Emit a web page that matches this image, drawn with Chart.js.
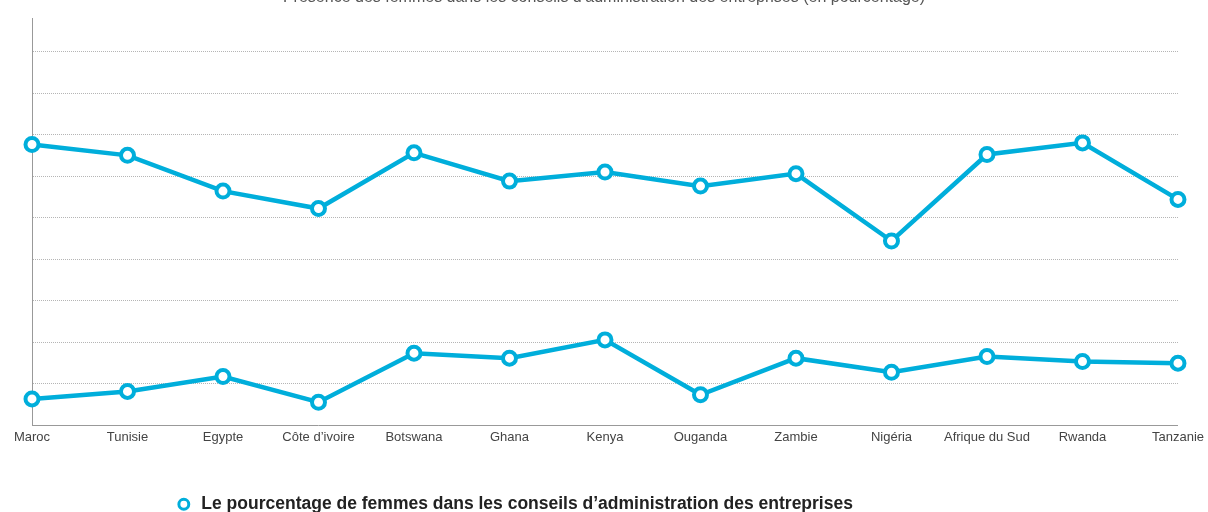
<!DOCTYPE html>
<html lang="fr">
<head>
  <meta charset="UTF-8" />
  <title>Femmes dans les conseils d'administration</title>
  <style>
    * {
      margin: 0;
      padding: 0;
      box-sizing: border-box;
    }

    html, body {
      width: 1208px;
      height: 512px;
      overflow: hidden;
      background: #fff;
    }

    .chart-wrap {
      position: absolute;
      left: 0;
      top: -12px;
      width: 1208px;
      height: 535px;
    }
  </style>
</head>
<body>
  <div class="chart-wrap">
    <canvas id="boardChart"></canvas>
  </div>

  <script src="https://cdn.jsdelivr.net/npm/chart.js"></script>
  <script>
    const countries = ["Maroc", "Tunisie", "Egypte", "Côte d’ivoire", "Botswana", "Ghana", "Kenya",
      "Ouganda", "Zambie", "Nigéria", "Afrique du Sud", "Rwanda", "Tanzanie"];
    const upperSeries = [33.8, 32.5, 28.2, 26.1, 32.8, 29.4, 30.5, 28.8, 30.3, 22.2, 32.6, 34.0, 27.2];
    const lowerSeries = [3.2, 4.1, 5.9, 2.8, 8.7, 8.1, 10.3, 3.7, 8.1, 6.4, 8.3, 7.7, 7.5];
    const legendLabel = "Le pourcentage de femmes dans les conseils d’administration des entreprises";
    const chartTitle = "Présence des femmes dans les conseils d’administration des entreprises (en pourcentage)";

    const cyan = '#00aedb';
    const fontFamily = "'Liberation Sans', Arial, sans-serif";

    function lineDataset(label, values, inLegend) {
      return {
        label: label,
        data: values,
        inLegend: inLegend,
        borderColor: cyan,
        borderWidth: 4.5,
        tension: 0,
        pointRadius: 6.5,
        pointHoverRadius: 6.5,
        pointBorderWidth: 4,
        pointBackgroundColor: '#fff',
        pointBorderColor: cyan,
        fill: false
      };
    }

    // move the legend a bit to the left, like in the original layout
    const legendShift = {
      id: 'legendShift',
      afterLayout(chart) {
        chart.legend.right -= 180;
      }
    };

    const ctx = document.getElementById('boardChart').getContext('2d');
    new Chart(ctx, {
      type: 'line',
      data: {
        labels: countries,
        datasets: [
          lineDataset(legendLabel, upperSeries, true),
          lineDataset(legendLabel, lowerSeries, false)
        ]
      },
      options: {
        responsive: true,
        maintainAspectRatio: false,
        animation: false,
        layout: { padding: 0 },
        plugins: {
          tooltip: { enabled: false },
          title: {
            display: true,
            text: chartTitle,
            color: '#555',
            font: { family: fontFamily, size: 16, weight: 'normal' },
            padding: { top: 0, bottom: 11 }
          },
          legend: {
            position: 'bottom',
            labels: {
              usePointStyle: true,
              pointStyle: 'circle',
              boxHeight: 7,
              padding: 10,
              color: '#222',
              font: { family: fontFamily, size: 17.5, weight: 'bold' },
              filter: (item, data) => data.datasets[item.datasetIndex].inLegend,
              generateLabels(chart) {
                const items = Chart.defaults.plugins.legend.labels.generateLabels(chart);
                items.forEach(it => {
                  it.fillStyle = '#fff';
                  it.strokeStyle = cyan;
                  it.lineWidth = 3;
                });
                return items;
              }
            }
          }
        },
        scales: {
          x: {
            offset: false,
            grid: { display: false, drawTicks: false },
            border: { display: true, color: '#999', width: 1 },
            ticks: {
              color: '#444',
              padding: 4,
              maxRotation: 0,
              autoSkip: false,
              font: { family: fontFamily, size: 13 }
            },
            afterFit(scale) {
              scale.height = 60;
            }
          },
          y: {
            min: 0,
            max: 49,
            grid: { color: '#b5b5b5', lineWidth: 1, drawTicks: false },
            border: { display: true, color: '#999', width: 1, dash: [1, 1] },
            ticks: { display: false, stepSize: 5, includeBounds: false },
            afterFit(scale) {
              scale.width = 32;
            }
          }
        }
      },
      plugins: [legendShift]
    });
  </script>
</body>
</html>
